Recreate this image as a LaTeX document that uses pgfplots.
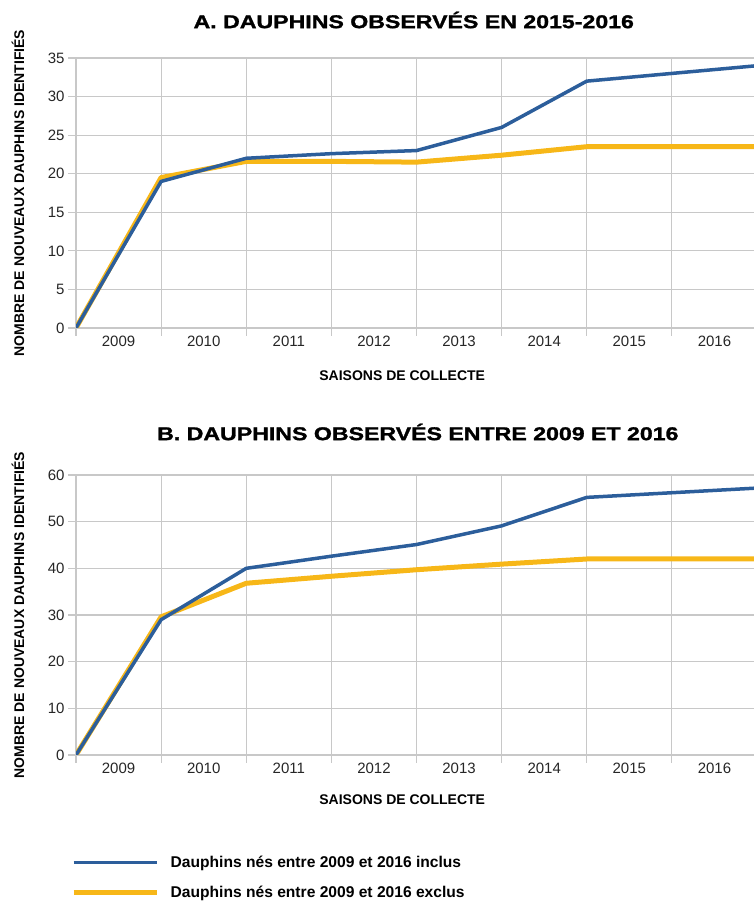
\documentclass[border=0pt]{standalone}
\usepackage{fontspec}
\setmainfont{Liberation Sans}
\newfontfamily\titlefont[FakeStretch=1.25,BoldFeatures={FakeBold=1.5}]{Liberation Sans}
\usepackage{pgfplots}
\pgfplotsset{compat=1.18}

\definecolor{bleu}{RGB}{44,94,155}
\definecolor{jaune}{RGB}{247,183,24}
\definecolor{grille}{RGB}{200,200,200}

\pgfplotstableread{
x inclus exclus
0 0    0
1 19   19.5
2 22   21.6
3 22.6 21.6
4 23   21.5
5 26   22.4
6 32   23.5
7 33   23.5
8 34   23.5
}\dataA

\pgfplotstableread{
x inclus exclus
0 0    0
1 29   29.6
2 40   36.8
3 42.6 38.3
4 45.1 39.7
5 49.1 40.9
6 55.2 42
7 56.2 42
8 57.2 42
}\dataB

\pgfplotsset{
  dauphin/.style={
    scale only axis,
    width=681bp,
    xmin=0, xmax=8,
    ymin=0,
    xtick={0,...,8},
    xticklabels={},
    extra x ticks={0.5,1.5,...,7.5},
    extra x tick labels={2009,2010,2011,2012,2013,2014,2015,2016},
    extra x tick style={grid=none, major tick length=0pt,
      xticklabel style={yshift=-5bp}},
    tick align=outside,
    major tick length=8bp,
    tick style={grille, line width=1.1bp},
    grid=major,
    major grid style={grille, line width=1.2bp},
    axis line style={grille, line width=1bp},
    axis x line*=bottom,
    axis y line*=left,
    /pgf/number format/assume math mode=true,
    ticklabel style={font=\fontsize{15bp}{17bp}\selectfont, color=black!85},
    xlabel={SAISONS DE COLLECTE},
    xlabel style={at={(axis description cs:0.479,0)}, anchor=center,
      font=\bfseries\fontsize{14bp}{16bp}\selectfont},
    ylabel={NOMBRE DE NOUVEAUX DAUPHINS IDENTIFIÉS},
    ylabel style={at={(axis description cs:-0.085,0.5)}, anchor=center,
      font=\bfseries\fontsize{14bp}{16bp}\selectfont},
    title style={anchor=center, font=\titlefont\bfseries\fontsize{18.5bp}{22bp}\selectfont},
  },
}

\begin{document}
\begin{tikzpicture}
\useasboundingbox (0bp,0bp) rectangle (754bp,901bp);

\begin{axis}[dauphin,
  at={(76bp,573bp)}, anchor=south west,
  height=270bp,
  ymax=35, ytick={0,5,...,35},
  xlabel style={yshift=-48bp},
  title={A. DAUPHINS OBSERVÉS EN 2015-2016},
  title style={at={(axis description cs:0.496,1)}, yshift=32bp},
]
\addplot[jaune, line width=5bp, line join=round] table[x=x, y=exclus] {\dataA};
\addplot[bleu, line width=3.5bp, line join=round] table[x=x, y=inclus] {\dataA};
\end{axis}

\begin{axis}[dauphin,
  at={(76bp,146bp)}, anchor=south west,
  height=280bp,
  ymax=60, ytick={0,10,...,60},
  xlabel style={yshift=-45bp},
  title={B. DAUPHINS OBSERVÉS ENTRE 2009 ET 2016},
  title style={at={(axis description cs:0.502,1)}, yshift=37bp},
  legend style={at={(axis description cs:0,0)}, anchor=north west,
    xshift=-8bp, yshift=-97bp, draw=none, fill=none,
    font=\bfseries\fontsize{15.6bp}{18bp}\selectfont,
    row sep=13bp, cells={anchor=west}},
  legend cell align=left,
  legend image code/.code={\draw[#1] (0bp,0bp) -- (83bp,0bp); \path[draw=none] (0bp,0bp) -- (95bp,0bp);},
  reverse legend,
]
\addplot[jaune, line width=5bp, line join=round] table[x=x, y=exclus] {\dataB};
\addplot[bleu, line width=3.5bp, line join=round] table[x=x, y=inclus] {\dataB};
\legend{Dauphins nés entre 2009 et 2016 exclus, Dauphins nés entre 2009 et 2016 inclus}
\end{axis}
\end{tikzpicture}
\end{document}
